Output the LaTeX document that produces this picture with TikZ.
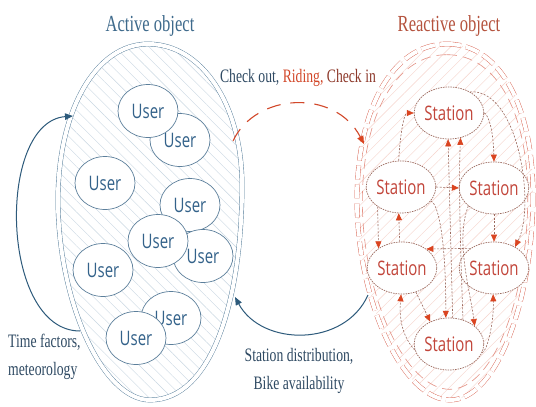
\documentclass[tikz,border=0pt]{standalone}
\usepackage{fontspec}
\setmainfont{Liberation Serif}
\newfontfamily\labelfont[FakeStretch=0.72]{Liberation Serif}
\newfontfamily\nodefont[FakeStretch=0.75]{Open Sans}
\usetikzlibrary{arrows.meta,patterns.meta,shapes.geometric}
\definecolor{eggblue}{HTML}{4F7896}
\definecolor{hatchblue}{HTML}{C9D7E2}
\definecolor{userline}{HTML}{5C7F9B}
\definecolor{usertext}{HTML}{33628A}
\definecolor{navy}{HTML}{2D5A7B}
\definecolor{labeltext}{HTML}{2F4A63}
\definecolor{activecol}{HTML}{3E6A8C}
\definecolor{reactcol}{HTML}{B5533E}
\definecolor{eggred}{HTML}{D8604E}
\definecolor{hatchred}{HTML}{F6D3CB}
\definecolor{stline}{HTML}{9C6A5E}
\definecolor{sttext}{HTML}{C2453A}
\definecolor{tipred}{HTML}{DA4420}
\definecolor{ridingred}{HTML}{D2482A}
\definecolor{checkin}{HTML}{8E3A2C}
\tikzset{
  userbox/.style={ellipse, draw=userline, line width=0.7pt, fill=white,
    minimum width=60pt, minimum height=53pt, inner sep=0pt,
    font=\nodefont\fontsize{20}{20}\selectfont, text=usertext},
  stationbox/.style={ellipse, draw=stline, line width=0.7pt, dash pattern=on 1.5pt off 1pt, fill=white,
    minimum width=58pt, minimum height=52pt, inner sep=0pt,
    font=\nodefont\fontsize{20}{20}\selectfont, text=sttext},
  labelbox/.style={font=\labelfont\fontsize{19}{28}\selectfont, text=labeltext, inner sep=0pt},
  titlebox/.style={font=\labelfont\fontsize{23}{23}\selectfont, inner sep=0pt},
  bluearrow/.style={draw=navy, line width=1pt, -{Triangle[length=8pt,width=6.5pt]}},
  redarc/.style={draw=ridingred, line width=1.1pt, dash pattern=on 14pt off 10pt,
    -{Triangle[length=8pt,width=6.5pt,color=tipred]}},
  sarrow/.style={draw=stline, line width=0.6pt, dash pattern=on 2pt off 1.5pt,
    -{Triangle[length=7pt,width=6pt,color=tipred]}},
}
\begin{document}
\begin{tikzpicture}[x=1pt,y=-1pt]
\useasboundingbox[fill=white] (0,0) rectangle (536,407);

% ---------- left egg (active object)
\draw[draw=eggblue, line width=0.7pt, double=white, double distance=4pt,
      pattern={Lines[angle=-45,distance=8pt,line width=0.4pt]}, pattern color=hatchblue]
  (148,44) .. controls (202,44) and (242,105) .. (242,185)
  .. controls (242,300) and (212,400) .. (150,400)
  .. controls (102,400) and (58,300) .. (58,200)
  .. controls (58,110) and (96,44) .. (148,44) -- cycle;

% ---------- right egg (reactive object)
\draw[draw=eggred, line width=0.7pt, double=white, double distance=4pt,
      dash pattern=on 14pt off 5pt,
      pattern={Lines[angle=45,distance=8pt,line width=0.4pt]}, pattern color=hatchred]
  (447,44) .. controls (502,44) and (533,110) .. (533,195)
  .. controls (533,300) and (497,400) .. (450,400)
  .. controls (403,400) and (357,300) .. (357,200)
  .. controls (357,110) and (392,44) .. (447,44) -- cycle;
\begin{scope}[shift={(446,222)}, scale=0.94, shift={(-446,-222)}]
\draw[draw=eggred!70, line width=0.6pt, dash pattern=on 10pt off 6pt]
  (447,44) .. controls (502,44) and (533,110) .. (533,195)
  .. controls (533,300) and (497,400) .. (450,400)
  .. controls (403,400) and (357,300) .. (357,200)
  .. controls (357,110) and (392,44) .. (447,44) -- cycle;
\end{scope}

% ---------- users
\node[userbox] (u2) at (180,140) {User};
\node[userbox] (u1) at (148,111) {User};
\node[userbox] (u3) at (105,183) {User};
\node[userbox] (u4) at (190,205) {User};
\node[userbox] (u6) at (203,256) {User};
\node[userbox] (u5) at (158,241) {User};
\node[userbox] (u7) at (103,270) {User};
\node[userbox] (u8) at (171,318) {User};
\node[userbox] (u9) at (136,338) {User};

% ---------- stations
\node[stationbox] (s1) at (449,113) {Station};
\node[stationbox] (s2) at (401,187) {Station};
\node[stationbox] (s3) at (494,188) {Station};
\node[stationbox] (s4) at (402,268) {Station};
\node[stationbox] (s5) at (494,268) {Station};
\node[stationbox] (s6) at (449,344) {Station};

% ---------- station connectors
\draw[sarrow] (s2.95) .. controls (400,135) and (404,113) .. (s1.west);
\draw[sarrow] (s1.east) .. controls (486,113) and (493,122) .. (s3.north);
\draw[sarrow] (s1.45) .. controls (518,88) and (536,205) .. (s5.45);
\draw[sarrow] (s2.east) -- (s3.west);
\draw[sarrow] (s2.220) -- (s4.140);
\draw[sarrow] (s4.95) -- (s2.265);
\draw[sarrow] (s5.140) -- (s4.38);
\draw[sarrow] (s3.south) -- (s5.north);
\draw[sarrow] (s6.190) .. controls (410,345) and (398,330) .. (s4.268);
\draw[sarrow] (s4.300) -- (s6.130);
\draw[sarrow] (s2.335) .. controls (440,205) and (446,250) .. (s6.97);
\draw[sarrow] (s6.82) -- (s1.268);
\draw[sarrow] (s6.60) .. controls (462,290) and (458,190) .. (s1.295);
\draw[sarrow] (s3.215) .. controls (455,240) and (470,290) .. (s6.35);
\draw[sarrow] (s6.345) .. controls (488,350) and (494,320) .. (s5.268);

% ---------- big connectors
\coordinate (lo1) at (80,331);
\coordinate (lo2) at (73,116);
\draw[bluearrow] (lo1) .. controls (0,331) and (-4,122) .. (lo2);
\coordinate (ca1) at (233,141);
\coordinate (ca2) at (364,144);
\draw[redarc] (ca1) .. controls (255,93) and (335,88) .. (ca2);
\coordinate (ba1) at (368,295);
\coordinate (ba2) at (235,297);
\draw[bluearrow] (ba1) .. controls (345,347) and (262,347) .. (ba2);

% ---------- texts
\node[titlebox, text=activecol] (ta) at (150,26) {Active object};
\node[titlebox, text=reactcol] (tr) at (449,26) {Reactive object};
\node[labelbox] (tc) at (298,78) {Check out, \textcolor{ridingred}{Riding,} \textcolor{checkin}{Check in}};
\node[labelbox, align=left, anchor=west] (tf) at (8,357) {Time factors,\\meteorology};
\node[labelbox, align=center] (ts) at (299,371) {Station distribution,\\Bike availability};
\end{tikzpicture}
\end{document}
